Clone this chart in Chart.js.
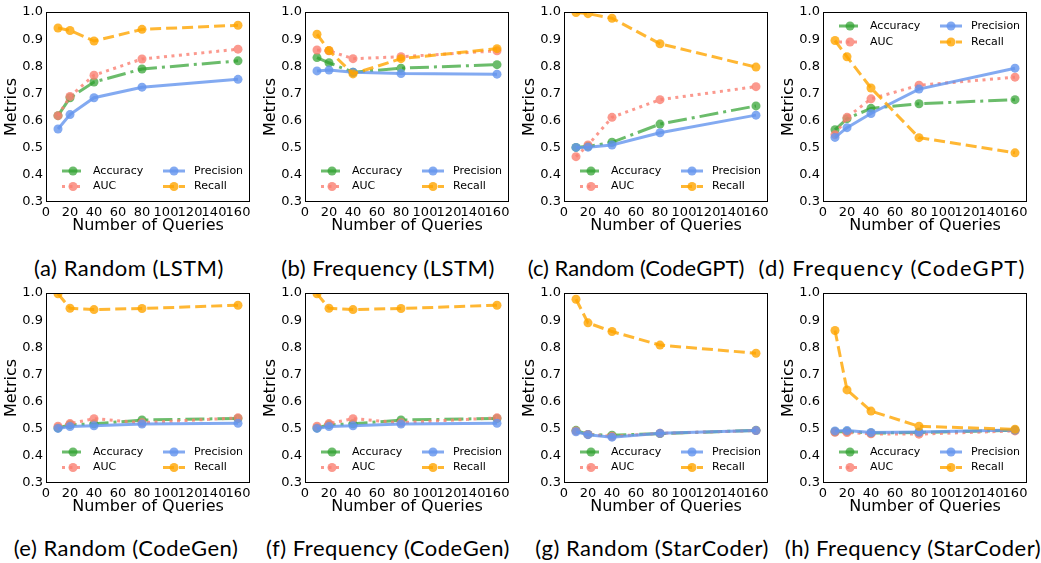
<!DOCTYPE html>
<html><head><meta charset="utf-8">
<script src="https://cdn.jsdelivr.net/npm/chart.js@4.4.0/dist/chart.umd.min.js"></script>
<style>
html,body{margin:0;padding:0;background:#fff;}
body{width:1041px;height:563px;position:relative;overflow:hidden;font-family:"DejaVu Sans";}
.panel{position:absolute;width:259px;height:240px;}
.cap{position:absolute;white-space:nowrap;font-family:Lato;font-size:22px;letter-spacing:0.5px;color:#000;transform:translateX(-50%);line-height:1;}
</style></head><body>
<script>
// ---- data ----
const queries = [10, 20, 40, 80, 160];
const xTickValues = [0, 20, 40, 60, 80, 100, 120, 140, 160];
const yTickValues = [0.3, 0.4, 0.5, 0.6, 0.7, 0.8, 0.9, 1.0];
const metricNames = ['Accuracy', 'AUC', 'Precision', 'Recall'];
const captions = ['(a) Random (LSTM)', '(b) Frequency (LSTM)', '(c) Random (CodeGPT)', '(d) Frequency (CodeGPT)',
                  '(e) Random (CodeGen)', '(f) Frequency (CodeGen)', '(g) Random (StarCoder)', '(h) Frequency (StarCoder)'];

const accRandomLSTM = [0.618, 0.684, 0.742, 0.790, 0.820];
const aucRandomLSTM = [0.618, 0.689, 0.767, 0.827, 0.863];
const preRandomLSTM = [0.569, 0.622, 0.684, 0.723, 0.752];
const recRandomLSTM = [0.941, 0.932, 0.893, 0.936, 0.951];

const accFreqLSTM = [0.832, 0.813, 0.778, 0.793, 0.806];
const aucFreqLSTM = [0.860, 0.857, 0.828, 0.835, 0.857];
const preFreqLSTM = [0.783, 0.786, 0.778, 0.773, 0.771];
const recFreqLSTM = [0.918, 0.858, 0.772, 0.828, 0.865];

const accRandomCodeGPT = [0.501, 0.505, 0.520, 0.587, 0.654];
const aucRandomCodeGPT = [0.467, 0.510, 0.612, 0.677, 0.725];
const preRandomCodeGPT = [0.501, 0.502, 0.510, 0.555, 0.620];
const recRandomCodeGPT = [0.998, 0.994, 0.977, 0.883, 0.797];

const accFreqCodeGPT = [0.566, 0.607, 0.645, 0.662, 0.677];
const aucFreqCodeGPT = [0.548, 0.612, 0.680, 0.730, 0.760];
const preFreqCodeGPT = [0.538, 0.574, 0.626, 0.716, 0.793];
const recFreqCodeGPT = [0.895, 0.835, 0.720, 0.537, 0.481];

const accRandomCodeGen = [0.503, 0.515, 0.518, 0.532, 0.538];
const aucRandomCodeGen = [0.509, 0.519, 0.537, 0.522, 0.540];
const preRandomCodeGen = [0.501, 0.508, 0.511, 0.517, 0.520];
const recRandomCodeGen = [0.997, 0.944, 0.939, 0.943, 0.955];

const accFreqCodeGen = [0.503, 0.515, 0.518, 0.532, 0.538];
const aucFreqCodeGen = [0.509, 0.519, 0.537, 0.522, 0.540];
const preFreqCodeGen = [0.501, 0.508, 0.511, 0.517, 0.520];
const recFreqCodeGen = [0.997, 0.944, 0.939, 0.943, 0.955];

const accRandomStarCoder = [0.494, 0.479, 0.476, 0.482, 0.494];
const aucRandomStarCoder = [0.492, 0.479, 0.472, 0.483, 0.493];
const preRandomStarCoder = [0.489, 0.478, 0.469, 0.483, 0.493];
const recRandomStarCoder = [0.977, 0.890, 0.858, 0.808, 0.778];

const accFreqStarCoder = [0.489, 0.490, 0.484, 0.486, 0.494];
const aucFreqStarCoder = [0.487, 0.486, 0.481, 0.480, 0.492];
const preFreqStarCoder = [0.492, 0.493, 0.486, 0.488, 0.495];
const recFreqStarCoder = [0.862, 0.643, 0.565, 0.509, 0.498];

// ---- layout / style ----
const panels = [
  {series: [accRandomLSTM, aucRandomLSTM, preRandomLSTM, recRandomLSTM], legend: 'lower'},
  {series: [accFreqLSTM, aucFreqLSTM, preFreqLSTM, recFreqLSTM], legend: 'lower'},
  {series: [accRandomCodeGPT, aucRandomCodeGPT, preRandomCodeGPT, recRandomCodeGPT], legend: 'lower'},
  {series: [accFreqCodeGPT, aucFreqCodeGPT, preFreqCodeGPT, recFreqCodeGPT], legend: 'upper'},
  {series: [accRandomCodeGen, aucRandomCodeGen, preRandomCodeGen, recRandomCodeGen], legend: 'lower'},
  {series: [accFreqCodeGen, aucFreqCodeGen, preFreqCodeGen, recFreqCodeGen], legend: 'lower'},
  {series: [accRandomStarCoder, aucRandomStarCoder, preRandomStarCoder, recRandomStarCoder], legend: 'lower'},
  {series: [accFreqStarCoder, aucFreqStarCoder, preFreqStarCoder, recFreqStarCoder], legend: 'lower'}
];
const capCenters = [129, 388, 636, 892, 126, 388, 652, 913];
const capTops = [257, 257, 257, 257, 537, 537, 537, 537];
const capLetterSpacing = [0.5, 0.5, 0, 1.2, 0.5, 0.5, 0.5, 0.5];
const styles = [
  {color: 'rgba(44,160,44,0.7)', dash: [19, 5, 3, 5]},
  {color: 'rgba(250,128,114,0.8)', dash: [3, 4.5]},
  {color: 'rgba(100,149,237,0.8)', dash: []},
  {color: 'rgba(255,165,0,0.8)', dash: [11, 5]}
];
const drawOrder = [4, 3, 2, 1];

const boxPlugin = {
  id: 'box',
  afterDatasetsDraw(chart) {
    const {ctx, chartArea: a} = chart;
    ctx.save();
    ctx.strokeStyle = '#000';
    ctx.lineWidth = 1;
    ctx.setLineDash([]);
    ctx.strokeRect(Math.round(a.left) + 0.5, Math.round(a.top) + 0.5, Math.round(a.right - a.left) - 1, Math.round(a.bottom - a.top) - 1);
    ctx.restore();
  }
};

const legendPlugin = {
  id: 'innerLegend',
  afterDraw(chart, args, opts) {
    const {ctx, chartArea: a} = chart;
    const rows = opts.where === 'upper' ? [a.top + 14, a.top + 30] : [a.bottom - 31, a.bottom - 15.5];
    const cols = [a.left + 16, a.left + 117];
    ctx.save();
    chart.data.datasets.forEach((ds, i) => {
      const x0 = cols[Math.floor(i / 2)];
      const y = rows[i % 2];
      ctx.strokeStyle = ds.borderColor;
      ctx.lineWidth = ds.borderWidth;
      ctx.setLineDash(ds.borderDash);
      ctx.beginPath();
      ctx.moveTo(x0, y);
      ctx.lineTo(x0 + 22, y);
      ctx.stroke();
      ctx.setLineDash([]);
      ctx.fillStyle = ds.pointBackgroundColor;
      ctx.beginPath();
      ctx.arc(x0 + 11, y, ds.pointRadius, 0, Math.PI * 2);
      ctx.fill();
      ctx.fillStyle = '#000';
      ctx.font = '11px "DejaVu Sans"';
      ctx.textBaseline = 'middle';
      ctx.textAlign = 'left';
      ctx.fillText(ds.label, x0 + 31, y);
    });
    ctx.restore();
  }
};

panels.forEach((p, idx) => {
  const col = idx % 4, row = Math.floor(idx / 4);
  const div = document.createElement('div');
  div.className = 'panel';
  div.style.left = (259 * col) + 'px';
  div.style.top = (row === 0 ? 0 : 281) + 'px';
  const canvas = document.createElement('canvas');
  canvas.width = 259; canvas.height = 240;
  canvas.style.width = '259px'; canvas.style.height = '240px';
  div.appendChild(canvas);
  document.body.appendChild(div);

  const cap = document.createElement('div');
  cap.className = 'cap';
  cap.textContent = captions[idx];
  cap.style.left = capCenters[idx] + 'px';
  cap.style.top = capTops[idx] + 'px';
  cap.style.letterSpacing = capLetterSpacing[idx] + 'px';
  document.body.appendChild(cap);

  const datasets = p.series.map((vals, i) => ({
    label: metricNames[i],
    data: queries.map((q, j) => ({x: q, y: vals[j]})),
    borderColor: styles[i].color,
    backgroundColor: styles[i].color,
    pointBackgroundColor: styles[i].color,
    pointBorderWidth: 0,
    pointRadius: 4.5,
    borderWidth: 3,
    borderDash: styles[i].dash,
    tension: 0,
    fill: false,
    order: drawOrder[i]
  }));

  new Chart(canvas, {
    type: 'line',
    data: {datasets},
    plugins: [boxPlugin, legendPlugin],
    options: {
      responsive: false,
      animation: false,
      devicePixelRatio: 1,
      layout: {padding: {left: 0, top: 12, right: 9, bottom: 0}},
      plugins: {legend: {display: false}, tooltip: {enabled: false}, innerLegend: {where: p.legend}},
      scales: {
        x: {
          type: 'linear', min: 0, max: 170,
          afterBuildTicks: s => { s.ticks = xTickValues.map(v => ({value: v})); },
          afterFit: s => { s.height = 38; },
          grid: {display: false, drawTicks: false, tickLength: 0}, border: {display: false},
          ticks: {autoSkip: false, maxRotation: 0, padding: 3, color: '#000', font: {family: 'DejaVu Sans', size: 13}},
          title: {display: true, text: 'Number of Queries', color: '#000', font: {family: 'DejaVu Sans', size: 16}, padding: {top: 0, bottom: 5}}
        },
        y: {
          type: 'linear', min: 0.3, max: 1.0,
          afterBuildTicks: s => { s.ticks = yTickValues.map(v => ({value: v})); },
          afterFit: s => { s.width = 46; },
          grid: {display: false, drawTicks: false, tickLength: 0}, border: {display: false},
          ticks: {padding: 3, color: '#000', font: {family: 'DejaVu Sans', size: 13}, callback: v => Number(v).toFixed(1)},
          title: {display: true, text: 'Metrics', color: '#000', font: {family: 'DejaVu Sans', size: 16}, padding: {top: 2, bottom: 0}}
        }
      }
    }
  });
});
</script>
</body></html>
